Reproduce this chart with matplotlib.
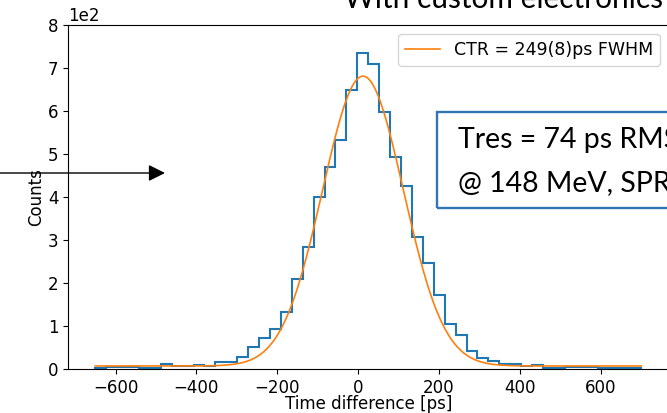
import numpy as np
import matplotlib
matplotlib.use("Agg")
import matplotlib.pyplot as plt
from matplotlib.patches import Rectangle, FancyArrowPatch

# histogram of time differences (50 bins of 27 ps from -650 to 700 ps)
bin_edges = np.linspace(-650, 700, 51)
counts = [3, 5, 4, 5, 3, 3, 12, 7, 7, 10,
          6, 16, 16, 29, 51, 73, 94, 133, 209, 284,
          401, 470, 533, 650, 734, 709, 598, 494, 426, 307,
          246, 171, 104, 79, 42, 26, 19, 12, 12, 6,
          10, 3, 2, 4, 4, 5, 3, 3, 2, 2]

# gaussian + constant fit, parameters
fit_amp = 674
fit_mu = 12
fit_sigma = 100
fit_offset = 7
fit_label = "CTR = 249(8)ps FWHM"

title = "With custom electronics"
box_lines = ["Tres = 74 ps RMS", "@ 148 MeV, SPR"]

plt.rcParams["font.size"] = 12

fig = plt.figure(figsize=(6.67, 4.13), dpi=100)
W, H = 667, 413
ax = fig.add_axes([68 / W, 44 / H, 600.5 / W, 344 / H])

ax.stairs(counts, bin_edges, color="tab:blue", lw=1.5)
xf = np.linspace(bin_edges[0], bin_edges[-1], 600)
yf = fit_amp * np.exp(-0.5 * ((xf - fit_mu) / fit_sigma) ** 2) + fit_offset
ax.plot(xf, yf, color="tab:orange", lw=1.2, label=fit_label)

ax.set_xlim(-717.5, 767.5)
ax.set_ylim(0, 800)
ax.ticklabel_format(axis="y", style="sci", scilimits=(2, 2))
ax.set_xlabel("Time difference [ps]", labelpad=-1)
ax.set_ylabel("Counts", labelpad=2)
ax.legend(loc="upper right", fontsize=12.5)

# slide decorations (cropped at the figure edge)
fig.text(503 / W, 1 - 8 / H, title, ha="center", va="baseline",
         fontsize=21.5, family="Lato")
fig.add_artist(Rectangle((437 / W, 1 - 208 / H), 330 / W, 96 / H,
                         transform=fig.transFigure, fill=False,
                         edgecolor="#2e75b6", lw=1.7, clip_on=False))
fig.text(458 / W, 1 - 148 / H, box_lines[0], ha="left", va="baseline",
         fontsize=20.5, family="Lato")
fig.text(458 / W, 1 - 191 / H, box_lines[1], ha="left", va="baseline",
         fontsize=20.5, family="Lato")
fig.add_artist(FancyArrowPatch((-5 / W, 1 - 173 / H), (165 / W, 1 - 173 / H),
                               transform=fig.transFigure, arrowstyle="-|>",
                               mutation_scale=25, color="black", lw=1,
                               shrinkA=0, shrinkB=0))

fig.savefig("out.png", dpi=100)
